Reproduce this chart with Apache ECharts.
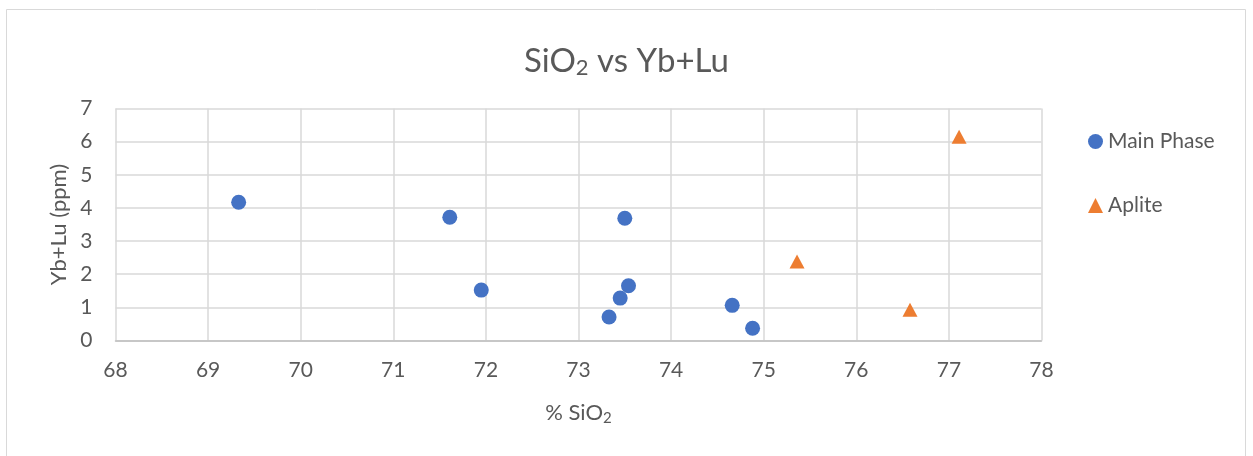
<!DOCTYPE html>
<html>
<head>
<meta charset="utf-8">
<script src="https://cdn.jsdelivr.net/npm/echarts@6/dist/echarts.min.js"></script>
<style>
html,body{margin:0;padding:0;background:#fff;}
#chart{width:1253px;height:456px;}
</style>
</head>
<body>
<div id="chart"></div>
<script>
// Data
const mainPhaseSiO2 = [69.33, 71.61, 71.95, 73.50, 73.54, 73.45, 73.33, 74.66, 74.88];
const mainPhaseYbLu = [4.17, 3.72, 1.52, 3.69, 1.65, 1.28, 0.71, 1.06, 0.37];
const apliteSiO2 = [77.11, 75.36, 76.58];
const apliteYbLu = [6.15, 2.38, 0.93];
const seriesNames = ['Main Phase', 'Aplite'];

const FONT = 'Lato, "Open Sans", sans-serif';
const GREY = '#595959';

const zip = (xs, ys) => xs.map((x, i) => [x, ys[i]]);

const chart = echarts.init(document.getElementById('chart'));
chart.setOption({
  animation: false,
  backgroundColor: '#fff',
  textStyle: { fontFamily: FONT },
  graphic: [{
    type: 'rect',
    shape: { x: 6.5, y: 9.5, width: 1239, height: 470 },
    style: { fill: 'none', stroke: '#d9d9d9', lineWidth: 1 },
    silent: true
  }],
  title: {
    text: '{a|SiO}{s|2}{a| vs Yb+Lu}',
    left: 'center',
    top: 31,
    textStyle: {
      fontWeight: 'normal',
      rich: {
        a: { fontFamily: FONT, fontSize: 33, fontWeight: 'normal', color: GREY, lineHeight: 42, verticalAlign: 'bottom' },
        s: { fontFamily: FONT, fontSize: 22, fontWeight: 'normal', color: GREY, lineHeight: 42, verticalAlign: 'bottom', padding: [0, 0, -1, 0] }
      }
    }
  },
  legend: {
    orient: 'vertical',
    left: 1083,
    top: 126,
    itemGap: 43,
    itemWidth: 15,
    itemHeight: 15,
    textStyle: { fontFamily: FONT, fontSize: 21, color: GREY },
    data: [
      { name: seriesNames[0], icon: 'circle' },
      { name: seriesNames[1], icon: 'triangle' }
    ]
  },
  grid: { left: 115.5, right: 211.5, top: 108.5, bottom: 115.5, containLabel: false },
  xAxis: {
    type: 'value',
    min: 68, max: 78, interval: 1,
    name: '{a|% SiO}{s|2}',
    nameLocation: 'middle',
    nameGap: 57,
    nameTextStyle: {
      rich: {
        a: { fontFamily: FONT, fontSize: 22, color: GREY, lineHeight: 26, verticalAlign: 'bottom' },
        s: { fontFamily: FONT, fontSize: 15, color: GREY, lineHeight: 26, verticalAlign: 'bottom', padding: [0, 0, -2, 0] }
      }
    },
    axisLine: { show: true, lineStyle: { color: '#bfbfbf', width: 1.5 } },
    axisTick: { show: false },
    axisLabel: { fontFamily: FONT, fontSize: 21, color: GREY, margin: 19 },
    splitLine: { show: true, lineStyle: { color: '#d9d9d9', width: 1.5 } }
  },
  yAxis: {
    type: 'value',
    min: 0, max: 7, interval: 1,
    name: 'Yb+Lu (ppm)',
    nameLocation: 'middle',
    nameGap: 45,
    nameTextStyle: { fontFamily: FONT, fontSize: 22, color: GREY },
    axisLine: { show: false },
    axisTick: { show: false },
    axisLabel: { fontFamily: FONT, fontSize: 21, color: GREY, margin: 23 },
    splitLine: { show: true, lineStyle: { color: '#d9d9d9', width: 1.5 } }
  },
  series: [
    {
      name: seriesNames[0],
      type: 'scatter',
      symbol: 'circle',
      symbolSize: 15,
      itemStyle: { color: '#4472C4', opacity: 1 },
      data: zip(mainPhaseSiO2, mainPhaseYbLu)
    },
    {
      name: seriesNames[1],
      type: 'scatter',
      symbol: 'triangle',
      symbolSize: [15, 14],
      itemStyle: { color: '#ED7D31', opacity: 1 },
      data: zip(apliteSiO2, apliteYbLu)
    }
  ]
});
</script>
</body>
</html>
